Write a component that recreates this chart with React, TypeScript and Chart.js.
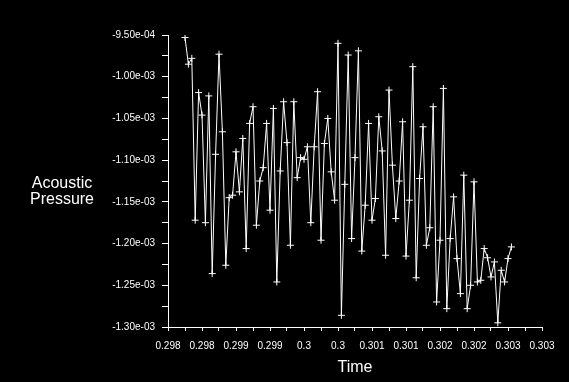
import React, { useEffect, useRef } from "react";
import { Chart, registerables } from "chart.js";

Chart.register(...registerables);

const times: number[] = [
  0.29800, 0.29805, 0.29810, 0.29815, 0.29820, 0.29825, 0.29830, 0.29835, 0.29840, 0.29845,
  0.29850, 0.29855, 0.29860, 0.29865, 0.29870, 0.29875, 0.29880, 0.29885, 0.29890, 0.29895,
  0.29900, 0.29905, 0.29910, 0.29915, 0.29920, 0.29925, 0.29930, 0.29935, 0.29940, 0.29945,
  0.29950, 0.29955, 0.29960, 0.29965, 0.29970, 0.29975, 0.29980, 0.29985, 0.29990, 0.29995,
  0.30000, 0.30005, 0.30010, 0.30015, 0.30020, 0.30025, 0.30030, 0.30035, 0.30040, 0.30045,
  0.30050, 0.30055, 0.30060, 0.30065, 0.30070, 0.30075, 0.30080, 0.30085, 0.30090, 0.30095,
  0.30100, 0.30105, 0.30110, 0.30115, 0.30120, 0.30125, 0.30130, 0.30135, 0.30140, 0.30145,
  0.30150, 0.30155, 0.30160, 0.30165, 0.30170, 0.30175, 0.30180, 0.30185, 0.30190, 0.30195,
  0.30200, 0.30205, 0.30210, 0.30215, 0.30220, 0.30225, 0.30230, 0.30235, 0.30240, 0.30245,
  0.30250, 0.30255, 0.30260, 0.30265, 0.30270, 0.30275, 0.30280,
];

const pressure: number[] = [
  -0.953e-3, -0.985e-3, -0.978e-3, -1.172e-3, -1.019e-3, -1.046e-3, -1.175e-3, -1.023e-3, -1.236e-3, -1.093e-3,
  -0.973e-3, -1.066e-3, -1.226e-3, -1.145e-3, -1.142e-3, -1.090e-3, -1.138e-3, -1.074e-3, -1.206e-3, -1.056e-3,
  -1.036e-3, -1.178e-3, -1.125e-3, -1.109e-3, -1.056e-3, -1.160e-3, -1.038e-3, -1.246e-3, -1.113e-3, -1.030e-3,
  -1.079e-3, -1.202e-3, -1.030e-3, -1.121e-3, -1.097e-3, -1.099e-3, -1.084e-3, -1.175e-3, -1.084e-3, -1.018e-3,
  -1.196e-3, -1.080e-3, -1.050e-3, -1.114e-3, -1.148e-3, -0.960e-3, -1.286e-3, -1.129e-3, -0.974e-3, -1.194e-3,
  -1.097e-3, -0.969e-3, -1.209e-3, -1.154e-3, -1.056e-3, -1.172e-3, -1.146e-3, -1.048e-3, -1.089e-3, -1.214e-3,
  -1.016e-3, -1.106e-3, -1.170e-3, -1.125e-3, -1.054e-3, -1.215e-3, -1.148e-3, -0.988e-3, -1.241e-3, -1.122e-3,
  -1.060e-3, -1.202e-3, -1.181e-3, -1.036e-3, -1.270e-3, -1.196e-3, -1.014e-3, -1.278e-3, -1.194e-3, -1.144e-3,
  -1.218e-3, -1.260e-3, -1.118e-3, -1.278e-3, -1.250e-3, -1.126e-3, -1.246e-3, -1.244e-3, -1.206e-3, -1.217e-3,
  -1.240e-3, -1.222e-3, -1.295e-3, -1.232e-3, -1.246e-3, -1.218e-3, -1.204e-3,
];

const xTickValues: number[] = [
  0.29775, 0.29825, 0.29875, 0.29925, 0.29975, 0.30025,
  0.30075, 0.30125, 0.30175, 0.30225, 0.30275, 0.30325,
];
const xTickLabels: string[] = [
  "0.298", "0.298", "0.299", "0.299", "0.3", "0.3",
  "0.301", "0.301", "0.302", "0.302", "0.303", "0.303",
];

const yTickValues: number[] = [
  -1.30e-3, -1.25e-3, -1.20e-3, -1.15e-3, -1.10e-3, -1.05e-3, -1.00e-3, -0.95e-3,
];
const yTickLabels: string[] = [
  "-1.30e-03", "-1.25e-03", "-1.20e-03", "-1.15e-03", "-1.10e-03", "-1.05e-03", "-1.00e-03", "-9.50e-04",
];

const xTitle = "Time";
const yTitleLines = ["Acoustic", "Pressure"];

const FONT = "'Liberation Sans', Arial, sans-serif";

function withMinors(majors: number[]): number[] {
  const out: number[] = [];
  for (let i = 0; i < majors.length; i++) {
    out.push(majors[i]);
    if (i < majors.length - 1) out.push((majors[i] + majors[i + 1]) / 2);
  }
  return out;
}

const yTitlePlugin = {
  id: "yTitleHorizontal",
  afterDraw(chart: any) {
    const ctx = chart.ctx;
    ctx.save();
    ctx.fillStyle = "#ffffff";
    ctx.font = `16px ${FONT}`;
    ctx.textAlign = "center";
    ctx.textBaseline = "alphabetic";
    ctx.fillText(yTitleLines[0], 62, 188);
    ctx.fillText(yTitleLines[1], 62, 204);
    ctx.restore();
  },
};

export default function App() {
  const canvasRef = useRef<HTMLCanvasElement | null>(null);

  useEffect(() => {
    document.body.style.margin = "0";
    document.body.style.background = "#000";
    const canvas = canvasRef.current;
    if (!canvas) return;
    const xAll = withMinors(xTickValues);
    const yAll = withMinors(yTickValues);
    const chart = new Chart(canvas, {
      type: "line",
      data: {
        datasets: [
          {
            data: times.map((t, i) => ({ x: t, y: pressure[i] })),
            borderColor: "#ffffff",
            borderWidth: 1,
            pointStyle: "cross",
            pointRadius: 3.5,
            pointBorderColor: "#ffffff",
            pointBorderWidth: 1,
            pointBackgroundColor: "#ffffff",
            tension: 0,
            fill: false,
          },
        ],
      },
      options: {
        responsive: false,
        animation: false,
        layout: { padding: { left: 0, right: 27, top: 35, bottom: 0 } },
        plugins: {
          legend: { display: false },
          tooltip: { enabled: false },
          title: { display: false },
        },
        scales: {
          x: {
            type: "linear",
            min: 0.29775,
            max: 0.30325,
            afterBuildTicks: (scale: any) => {
              scale.ticks = xAll.map((v) => ({ value: v }));
            },
            afterFit: (scale: any) => {
              scale.height = 55;
            },
            ticks: {
              autoSkip: false,
              maxRotation: 0,
              minRotation: 0,
              padding: 9,
              color: "#ffffff",
              font: { family: FONT, size: 10 },
              callback: (_v: any, i: number) => (i % 2 === 0 ? xTickLabels[i / 2] : ""),
            },
            grid: {
              display: true,
              drawOnChartArea: false,
              drawTicks: true,
              tickLength: 4,
              color: "#ffffff",
              tickColor: "#ffffff",
            },
            border: { display: true, color: "#ffffff", width: 1 },
            title: {
              display: true,
              text: xTitle,
              color: "#ffffff",
              font: { family: FONT, size: 16 },
              padding: { top: 0, bottom: 5 },
            },
          },
          y: {
            type: "linear",
            min: -1.30e-3,
            max: -0.95e-3,
            afterBuildTicks: (scale: any) => {
              scale.ticks = yAll.map((v) => ({ value: v }));
            },
            afterFit: (scale: any) => {
              scale.width = 168;
            },
            ticks: {
              autoSkip: false,
              padding: 7,
              color: "#ffffff",
              font: { family: FONT, size: 10 },
              callback: (_v: any, i: number) => (i % 2 === 0 ? yTickLabels[i / 2] : ""),
            },
            grid: {
              display: true,
              drawOnChartArea: false,
              drawTicks: true,
              tickLength: 6,
              color: "#ffffff",
              tickColor: "#ffffff",
            },
            border: { display: true, color: "#ffffff", width: 1 },
          },
        },
      },
      plugins: [yTitlePlugin],
    });
    return () => chart.destroy();
  }, []);

  return (
    <div style={{ width: 569, height: 382, background: "#000" }}>
      <canvas ref={canvasRef} width={569} height={382} style={{ display: "block" }} />
    </div>
  );
}
